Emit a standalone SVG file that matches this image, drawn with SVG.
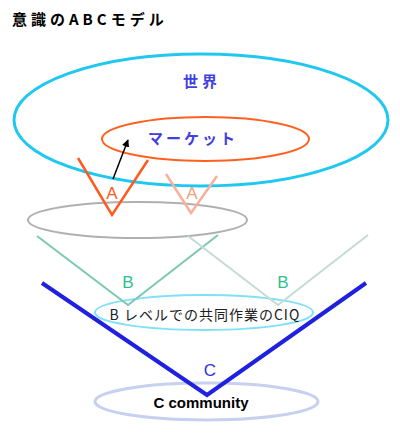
<svg xmlns="http://www.w3.org/2000/svg" width="400" height="440" viewBox="0 0 400 440">
<style>
.ring{fill:none}
.cjk{font-family:"Noto Sans CJK JP","Liberation Sans",sans-serif}
.lbl{font-family:"Liberation Sans","Noto Sans CJK JP",sans-serif;text-anchor:middle}
.v{fill:none;stroke-linejoin:miter}
</style>
<defs>
<marker id="ah" viewBox="0 0 10 10" refX="9" refY="5" markerWidth="5" markerHeight="5" orient="auto" markerUnits="strokeWidth">
<path d="M0,0 L10,5 L0,10 z" fill="#000"/>
</marker>
</defs>
<rect width="400" height="440" fill="#fff"/>
<text x="12" y="25" class="cjk" font-size="15" font-weight="bold" fill="#000" letter-spacing="4">意識のABCモデル</text>
<g id="world">
<ellipse class="ring" cx="201" cy="120" rx="187" ry="66" stroke="#20c8f0" stroke-width="3"/>
<text x="202" y="87" class="cjk" font-size="15" font-weight="bold" fill="#4040e0" text-anchor="middle" letter-spacing="4">世界</text>
</g>
<g id="market">
<ellipse class="ring" cx="205.5" cy="139" rx="103.5" ry="22" stroke="#ff6020" stroke-width="2"/>
<text x="193" y="144" class="cjk" font-size="15" font-weight="bold" fill="#4040e0" text-anchor="middle" letter-spacing="3">マーケット</text>
</g>
<g id="gray">
<ellipse class="ring" cx="137.5" cy="220" rx="109.5" ry="18" stroke="#b0b0b0" stroke-width="2"/>
</g>
<g id="ciq">
<ellipse class="ring" cx="204" cy="312.5" rx="109" ry="17.5" stroke="#80e0f8" stroke-width="2"/>
<text x="205" y="320" class="cjk" font-size="14" fill="#202020" text-anchor="middle" letter-spacing="1">B レベルでの共同作業のCIQ</text>
</g>
<g id="community">
<ellipse class="ring" cx="206.5" cy="401.5" rx="111.5" ry="18.5" stroke="#c8d0f0" stroke-width="3"/>
<text x="201" y="408" class="lbl" font-size="15" font-weight="bold" fill="#000">C community</text>
</g>
<g id="connectors">
<polyline class="v" points="78,158 112,215 148,160" stroke="#ff5a1e" stroke-width="2.5"/>
<polyline class="v" points="166,174 191,213 217,176" stroke="#f8b09a" stroke-width="2.5"/>
<polyline class="v" points="37,236 128,305 218,235" stroke="#7cc8b0" stroke-width="2"/>
<polyline class="v" points="188,236 278,305 368,235" stroke="#c4dcd4" stroke-width="2"/>
<polyline class="v" points="42,283 207,395 366,283" stroke="#2020e0" stroke-width="4"/>
<line x1="113" y1="179" x2="128" y2="140" stroke="#000" stroke-width="1.5" marker-end="url(#ah)"/>
</g>
<g id="labels">
<text x="112" y="199" class="lbl" font-size="17" fill="#ff5a1e">A</text>
<text x="192" y="199" class="lbl" font-size="17" fill="#f0a080">A</text>
<text x="128" y="288" class="lbl" font-size="17" fill="#30c090">B</text>
<text x="283" y="288" class="lbl" font-size="17" fill="#30c090">B</text>
<text x="210" y="376" class="lbl" font-size="17" fill="#3030e0">C</text>
</g>
</svg>
